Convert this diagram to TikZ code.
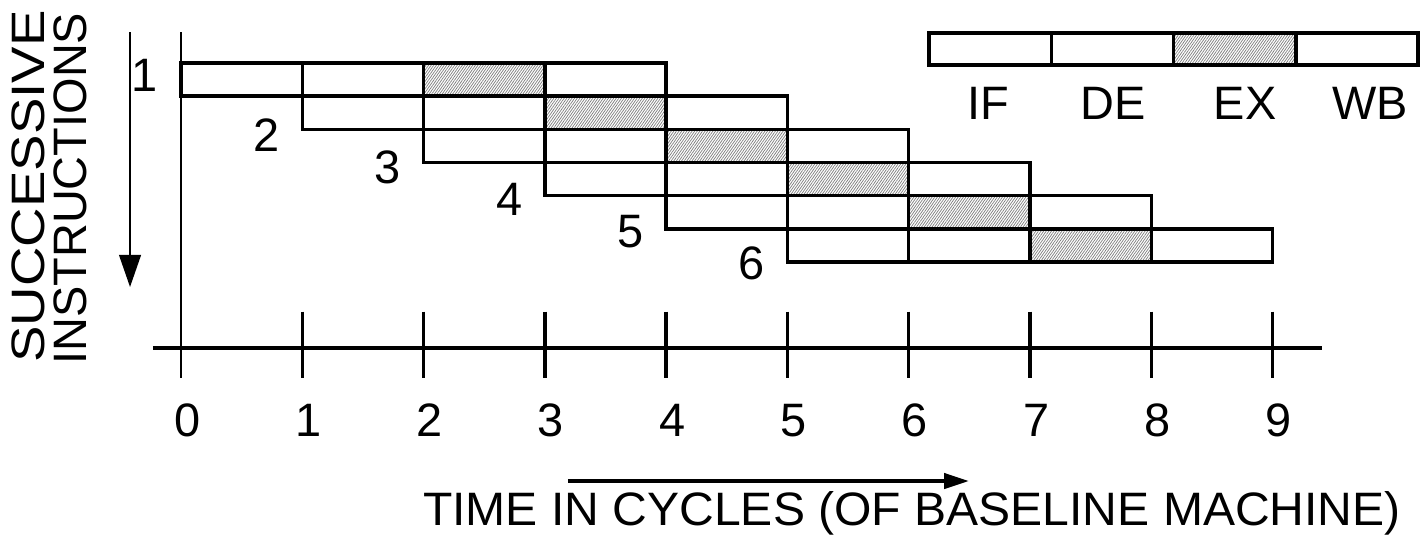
\documentclass[tikz,border=0pt]{standalone}
\usepackage{graphicx}
\usepackage{fontspec}
\setmainfont{Liberation Sans}
\usetikzlibrary{arrows.meta,patterns.meta}

\begin{document}
\begin{tikzpicture}[x=2cm, y=1cm,
    stage/.style={draw, line width=1.6pt},
    exstage/.style={pattern={Lines[angle=55,distance=1pt,line width=0.35pt]}, pattern color=gray},
    lbl/.style={inner sep=0pt, anchor=base, font=\fontsize{22}{26}\selectfont},
    tickmark/.style={line width=1.6pt}]
  \useasboundingbox (-1.492,-3.1) rectangle (10.231,5.738);

  % time axis
  \draw[line width=0.8pt] (0,5.21) -- (0,-0.495);
  \draw[line width=1.6pt] (-0.231,0) -- (9.406,0);
  \foreach \t in {1,...,9}
    \draw[tickmark] (\t,0.6) -- (\t,-0.5);
  \foreach \t in {0,...,9}
    \node[lbl] (cyc\t) at (\t+0.05,-1.467) {\t};

  % successive instructions
  \foreach \i in {1,...,6} {
    \pgfmathsetmacro{\yt}{4.699-(\i-1)*0.547}
    \pgfmathsetmacro{\yb}{4.699-\i*0.547}
    \fill[exstage] (\i+1,\yb) rectangle (\i+2,\yt);
    \foreach \s in {0,...,3}
      \draw[stage] (\i-1+\s,\yb) rectangle (\i+\s,\yt);
  }
  \node[lbl] (instr1) at (-0.301,4.237) {1};
  \foreach \i in {2,...,6}
    \node[lbl] (instr\i) at (\i-2+0.705,3.232-\i*0.526+2*0.526) {\i};

  % legend
  \fill[exstage] (8.183,4.666) rectangle (9.191,5.194);
  \foreach \s in {0,...,3}
    \draw[stage] (6.167+\s*1.008,4.666) rectangle (7.175+\s*1.008,5.194);
  \path (6.653,3.776) node[lbl] (IF) {IF}
        (7.683,3.776) node[lbl] (DE) {DE}
        (8.772,3.776) node[lbl] (EX) {EX}
        (9.802,3.776) node[lbl] (WB) {WB};

  % axis captions
  \coordinate (downstart) at (-0.42,5.21);
  \coordinate (downend) at (-0.42,1.006);
  \draw[line width=0.8pt, -{Triangle[length=0.53cm,width=0.36cm]}] (downstart) -- (downend);
  \node[lbl, rotate=90, anchor=base west] (succ) at (-1.129,-0.247) {\scalebox{1.165}[1]{SUCCESSIVE}};
  \node[lbl, rotate=90, anchor=base west] (instrs) at (-0.775,-0.28) {INSTRUCTIONS};

  \coordinate (timestart) at (3.19,-2.193);
  \coordinate (timeend) at (6.496,-2.193);
  \draw[line width=1.8pt, -{Triangle[length=0.41cm,width=0.25cm]}] (timestart) -- (timeend);
  \node[lbl] (timecap) at (6.026,-2.93) {\scalebox{1.025}[1]{TIME IN CYCLES (OF BASELINE MACHINE)}};
\end{tikzpicture}
\end{document}
